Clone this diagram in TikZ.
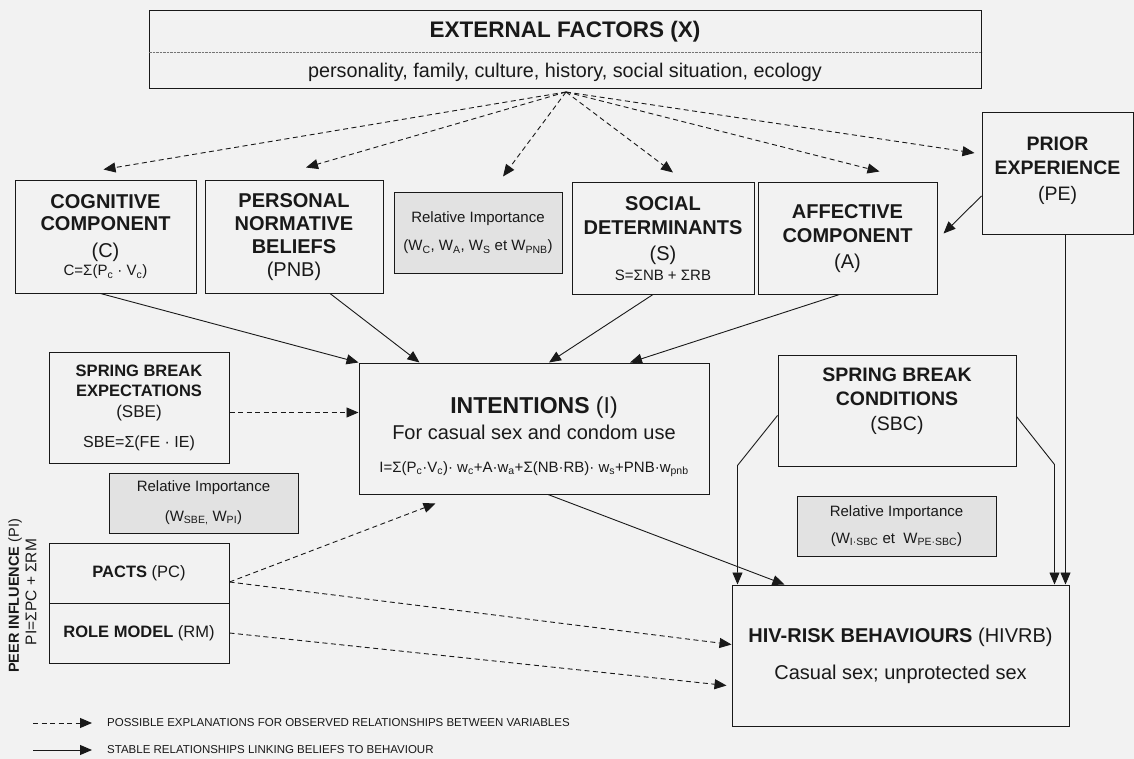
\documentclass[tikz,border=0pt]{standalone}
\usepackage{fontspec}
\setmainfont{Liberation Sans}
\usetikzlibrary{arrows.meta}
\definecolor{paper}{RGB}{242,242,242}
\definecolor{shade}{RGB}{226,226,226}
\definecolor{ink}{RGB}{25,25,25}
\newcommand\fsz[2]{\fontsize{#1}{#2}\selectfont}
\tikzset{
  box/.style={draw=ink, line width=1pt, fill=paper, inner sep=0pt, align=center, text=ink},
  weightbox/.style={box, fill=shade},
  link/.style={draw=ink, line width=0.9pt, -{Triangle[length=12pt,width=10pt]}},
  hint/.style={link, dash pattern=on 5pt off 3.5pt},
}
\begin{document}
\begin{tikzpicture}[x=1pt,y=-1pt]
\fill[paper] (0,0) rectangle (1134,759);

% external factors
\node[box, minimum width=832pt, minimum height=78pt] (ext) at (565,50) {};
\node[text=ink, font=\fsz{22.5}{26}\bfseries] (extT) at (565,32) {EXTERNAL FACTORS (X)};
\node[text=ink, font=\fsz{19.8}{22}] (extS) at (565,72) {personality, family, culture, history, social situation, ecology};
\draw[ink!60, densely dotted] ([yshift=-2pt]ext.west) -- ([yshift=-2pt]ext.east);
\coordinate (fan) at (566,92);

% beliefs
\node[box, font=\fsz{20}{22}, minimum width=181pt, minimum height=112pt] (cog) at (105.5,237)
  {\bfseries COGNITIVE\\ \bfseries COMPONENT\\[5pt] (C)\\[-4pt] \fsz{15}{18}C=Σ(P\textsubscript{c} · V\textsubscript{c})};
\node[box, font=\fsz{20}{23}, minimum width=178pt, minimum height=112pt] (pnb) at (294,237)
  {\bfseries PERSONAL\\ \bfseries NORMATIVE\\ \bfseries BELIEFS\\ (PNB)};
\node[weightbox, font=\fsz{15}{28}, minimum width=168pt, minimum height=80pt] (rel1) at (478,233)
  {Relative Importance\\ (W\textsubscript{C}, W\textsubscript{A}, W\textsubscript{S} et W\textsubscript{PNB})};
\node[box, font=\fsz{20}{24}, minimum width=182pt, minimum height=111pt] (soc) at (663,238.5)
  {\bfseries SOCIAL\\ \bfseries DETERMINANTS\\[2pt] (S)\\[-4pt] \fsz{15}{18}S=ΣNB + ΣRB};
\node[box, font=\fsz{20}{24}, minimum width=179pt, minimum height=111pt] (aff) at (847.5,238.5)
  {\bfseries AFFECTIVE\\ \bfseries COMPONENT\\[2pt] (A)};
\node[box, font=\fsz{19.5}{24}, minimum width=151pt, minimum height=122pt] (pe) at (1057.5,174)
  {\bfseries PRIOR\\ \bfseries EXPERIENCE\\[2pt] (PE)\\[-13pt] \mbox{}};

% middle row
\node[box, font=\fsz{16.5}{20}, minimum width=180pt, minimum height=111pt] (sbe) at (139,407.5)
  {\bfseries SPRING BREAK\\ \bfseries EXPECTATIONS\\[1pt] \fsz{17}{20}(SBE)\\[10pt] \fsz{16}{20}SBE=Σ(FE · IE)};
\node[box, font=\fsz{23}{27}, minimum width=350pt, minimum height=131pt] (int) at (534,428.5)
  {\mbox{}\\[6pt] \bfseries INTENTIONS \mdseries(I)\\[-1pt] \fsz{20}{24}For casual sex and condom use\\[6pt]
   \fsz{15}{18}I=Σ(P\textsubscript{c}·V\textsubscript{c})· w\textsubscript{c}+A·w\textsubscript{a}+Σ(NB·RB)· w\textsubscript{s}+PNB·w\textsubscript{pnb}};
\node[box, font=\fsz{19.5}{24}, minimum width=238pt, minimum height=111pt] (sbc) at (897,410.5)
  {\bfseries SPRING BREAK\\ \bfseries CONDITIONS\\[1pt] (SBC)\\[-1pt] \mbox{}};
\node[weightbox, font=\fsz{15}{30}, minimum width=189pt, minimum height=60pt] (rel2) at (203.5,503)
  {Relative Importance\\ (W\textsubscript{SBE,} W\textsubscript{PI})};
\node[weightbox, font=\fsz{15}{27}, minimum width=199pt, minimum height=60pt] (rel3) at (896.5,526)
  {Relative Importance\\ (W\textsubscript{I·SBC} et\ \ W\textsubscript{PE·SBC})};

% peer influence and behaviours
\node[box, font=\fsz{16.5}{20}, minimum width=180pt, minimum height=60pt] (pc) at (139,573)
  {\textbf{PACTS} (PC)};
\node[box, font=\fsz{16.5}{20}, minimum width=180pt, minimum height=60pt] (rm) at (139,633)
  {\textbf{ROLE MODEL} (RM)};
\node[text=ink, rotate=90, font=\fsz{14.5}{18}] (peerT) at (15,596) {\textbf{PEER INFLUENCE} (PI)};
\node[text=ink, rotate=90, font=\fsz{15.5}{18}] (peerS) at (31,592) {PI=ΣPC + ΣRM};
\node[box, font=\fsz{20}{37}, minimum width=337pt, minimum height=141pt] (hiv) at (900.5,655.5)
  {\textbf{HIV-RISK BEHAVIOURS} (HIVRB)\\ Casual sex; unprotected sex};

% external factors fan out
\draw[hint] (fan) -- ([shift={(-2pt,11pt)}]cog.north);
\draw[hint] (fan) -- ([shift={(12pt,13pt)}]pnb.north);
\draw[hint] (fan) -- ([shift={(25pt,16pt)}]rel1.north);
\draw[hint] (fan) -- ([shift={(10pt,10pt)}]soc.north);
\draw[hint] (fan) -- ([shift={(32pt,11pt)}]aff.north);
\draw[hint] (fan) -- ([shift={(-7pt,21pt)}]pe.west);

% beliefs to intentions
\draw[link] ([xshift=-5pt]cog.south) -- (int.north west);
\draw[link] ([xshift=36pt]pnb.south) -- ([xshift=61pt]int.north west);
\draw[link] ([xshift=-10pt]soc.south) -- ([xshift=15pt]int.north);
\draw[link] ([xshift=-8pt]aff.south) -- ([xshift=96pt]int.north);
\draw[link] ([yshift=-22pt]pe.west) -- ([shift={(6pt,5pt)}]aff.east);
\draw[hint] ([yshift=-5pt]sbe.east) -- ([yshift=-5pt]sbe.east -| int.west);

% to behaviours
\draw[link] ([xshift=14pt]int.south) -- ([xshift=53pt]hiv.north west);
\draw[link] ([yshift=-5pt]sbc.west) -- ++(-40,50) -- ([xshift=6pt]hiv.north west);
\draw[link] ([yshift=-6pt]sbc.east) -- ++(38,48) -- ([xshift=-15pt]hiv.north east);
\draw[link] ([xshift=8pt]pe.south) -- ([xshift=8pt]pe.south |- hiv.north);
\draw[hint] ([yshift=-9pt]pc.east) -- ([shift={(77pt,-9pt)}]int.south west);
\draw[hint] ([yshift=-9pt]pc.east) -- ([yshift=11pt]hiv.west);
\draw[hint] (rm.east) -- ([shift={(-5pt,-30pt)}]hiv.west);

% legend
\coordinate (lgA) at (33,723);
\coordinate (lgB) at (33,750);
\draw[hint] (lgA) -- ++(59,0);
\draw[link] (lgB) -- ++(59,0);
\node[anchor=west, text=ink, inner sep=0pt, font=\fsz{11.5}{13}] (lgAt) at (107,723) {POSSIBLE EXPLANATIONS FOR OBSERVED RELATIONSHIPS BETWEEN VARIABLES};
\node[anchor=west, text=ink, inner sep=0pt, font=\fsz{11.5}{13}] (lgBt) at (107,750) {STABLE RELATIONSHIPS LINKING BELIEFS TO BEHAVIOUR};
\end{tikzpicture}
\end{document}
